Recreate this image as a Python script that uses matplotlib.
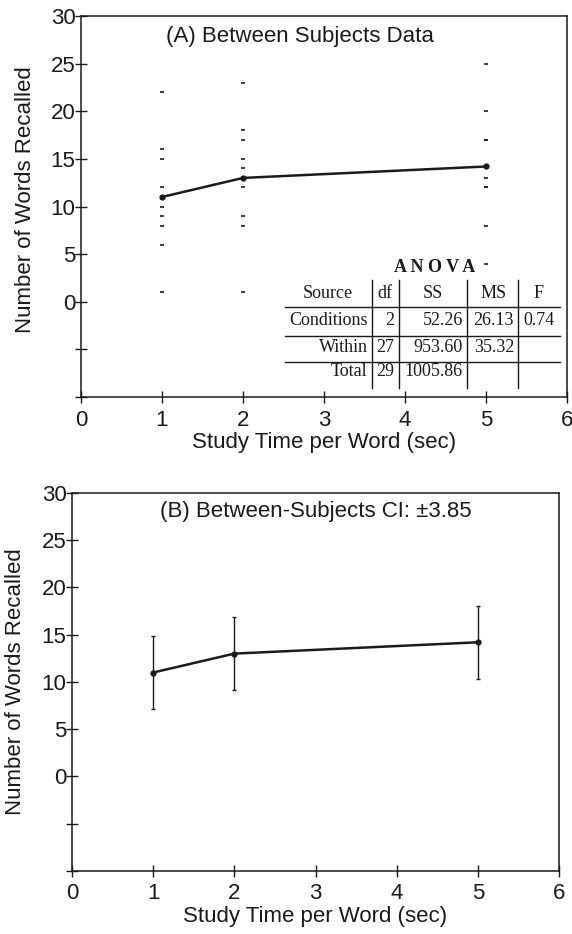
import numpy as np
import matplotlib.pyplot as plt

# Tiempos de estudio (s) y palabras recordadas por sujeto
study_time = [1, 2, 5]
recall_1s = [10, 6, 11, 22, 16, 15, 1, 12, 9, 8]
recall_2s = [13, 8, 14, 23, 18, 17, 1, 15, 12, 9]
recall_5s = [13, 8, 14, 25, 20, 17, 4, 17, 12, 12]
ci_half = 3.85

# Tabla ANOVA
anova_header = ["Source", "df", "SS", "MS", "F"]
anova_source = ["Conditions", "Within", "Total"]
anova_df = ["2", "27", "29"]
anova_ss = ["52.26", "953.60", "1005.86"]
anova_ms = ["26.13", "35.32", ""]
anova_f = ["0.74", "", ""]

sans = "Liberation Sans"
serif = "Liberation Serif"
ink = "#1a1a1a"
fs = 16

groups = [recall_1s, recall_2s, recall_5s]
means = np.array([np.mean(g) for g in groups])

fig = plt.figure(figsize=(5.72, 9.34), dpi=100, facecolor="w")
ax_a = fig.add_axes([0.1416, 0.5749, 0.8497, 0.408])
ax_b = fig.add_axes([0.1259, 0.0675, 0.8514, 0.4047])


def style_axes(ax, ylab_x, ylab_y):
    ax.set_xlim(0, 6)
    ax.set_ylim(-10, 30)
    ax.set_xticks(range(0, 7))
    ax.set_yticks(range(-10, 31, 5))
    ax.set_yticklabels(["" if v < 0 else str(v) for v in range(-10, 31, 5)])
    ax.tick_params(axis="both", direction="inout", length=8, width=1.0, color=ink,
                   labelsize=fs, labelcolor=ink)
    ax.tick_params(axis="y", pad=0)
    ax.tick_params(axis="x", pad=5)
    for lab in ax.get_xticklabels() + ax.get_yticklabels():
        lab.set_family(sans)
    for sp in ax.spines.values():
        sp.set_linewidth(1.1)
        sp.set_color(ink)
    ax.set_xlabel("Study Time per Word (sec)", fontsize=fs, family=sans, color=ink, labelpad=1)
    ax.set_ylabel("Number of Words Recalled", fontsize=fs, family=sans, color=ink)
    ax.yaxis.set_label_coords(ylab_x, ylab_y)


# (A) datos individuales
for t, g in zip(study_time, groups):
    ax_a.plot([t] * len(g), g, ls="none", marker="_", ms=3, mew=1.2, color=ink, zorder=2)
ax_a.plot(study_time, means, "-o", color=ink, lw=1.8, ms=3.5, zorder=3)
ax_a.text(0.451, 0.945, "(A) Between Subjects Data", transform=ax_a.transAxes,
          ha="center", va="center", fontsize=fs, family=sans, color=ink)
style_axes(ax_a, -0.092, 0.517)

# Tabla ANOVA dibujada a mano
tr = ax_a.transAxes
tfs = 13
ax_a.text(0.728, 0.341, "A N O V A", transform=tr, ha="center", va="center",
          fontsize=tfs, family=serif, weight="bold", color=ink)
for xv in [0.599, 0.654, 0.794, 0.899]:
    ax_a.plot([xv, xv], [0.024, 0.307], transform=tr, color=ink, lw=1.0)
for yv in [0.236, 0.160, 0.092]:
    ax_a.plot([0.420, 0.986], [yv, yv], transform=tr, color=ink, lw=1.0)
head_x = [0.508, 0.626, 0.724, 0.848, 0.942]
for hx, h in zip(head_x, anova_header):
    ax_a.text(hx, 0.273, h, transform=tr, ha="center", va="center",
              fontsize=tfs, family=serif, color=ink)
row_y = [0.202, 0.131, 0.066]
col_right = [0.590, 0.644, 0.786, 0.891, 0.975]
for i, ry in enumerate(row_y):
    cells = [anova_source[i], anova_df[i], anova_ss[i], anova_ms[i], anova_f[i]]
    for cx, c in zip(col_right, cells):
        ax_a.text(cx, ry, c, transform=tr, ha="right", va="center",
                  fontsize=tfs, family=serif, color=ink)

# (B) medias con intervalo de confianza
ax_b.errorbar(study_time, means, yerr=ci_half, fmt="-o", color=ink, lw=1.8, ms=3.5,
              elinewidth=1.0, capsize=1.5, capthick=1.0, ecolor=ink, zorder=3)
ax_b.text(0.501, 0.95, "(B) Between-Subjects CI: \u00b13.85", transform=ax_b.transAxes,
          ha="center", va="center", fontsize=fs, family=sans, color=ink)
style_axes(ax_b, -0.094, 0.5)

fig.savefig("out.png", dpi=100, facecolor="w")
plt.close(fig)
